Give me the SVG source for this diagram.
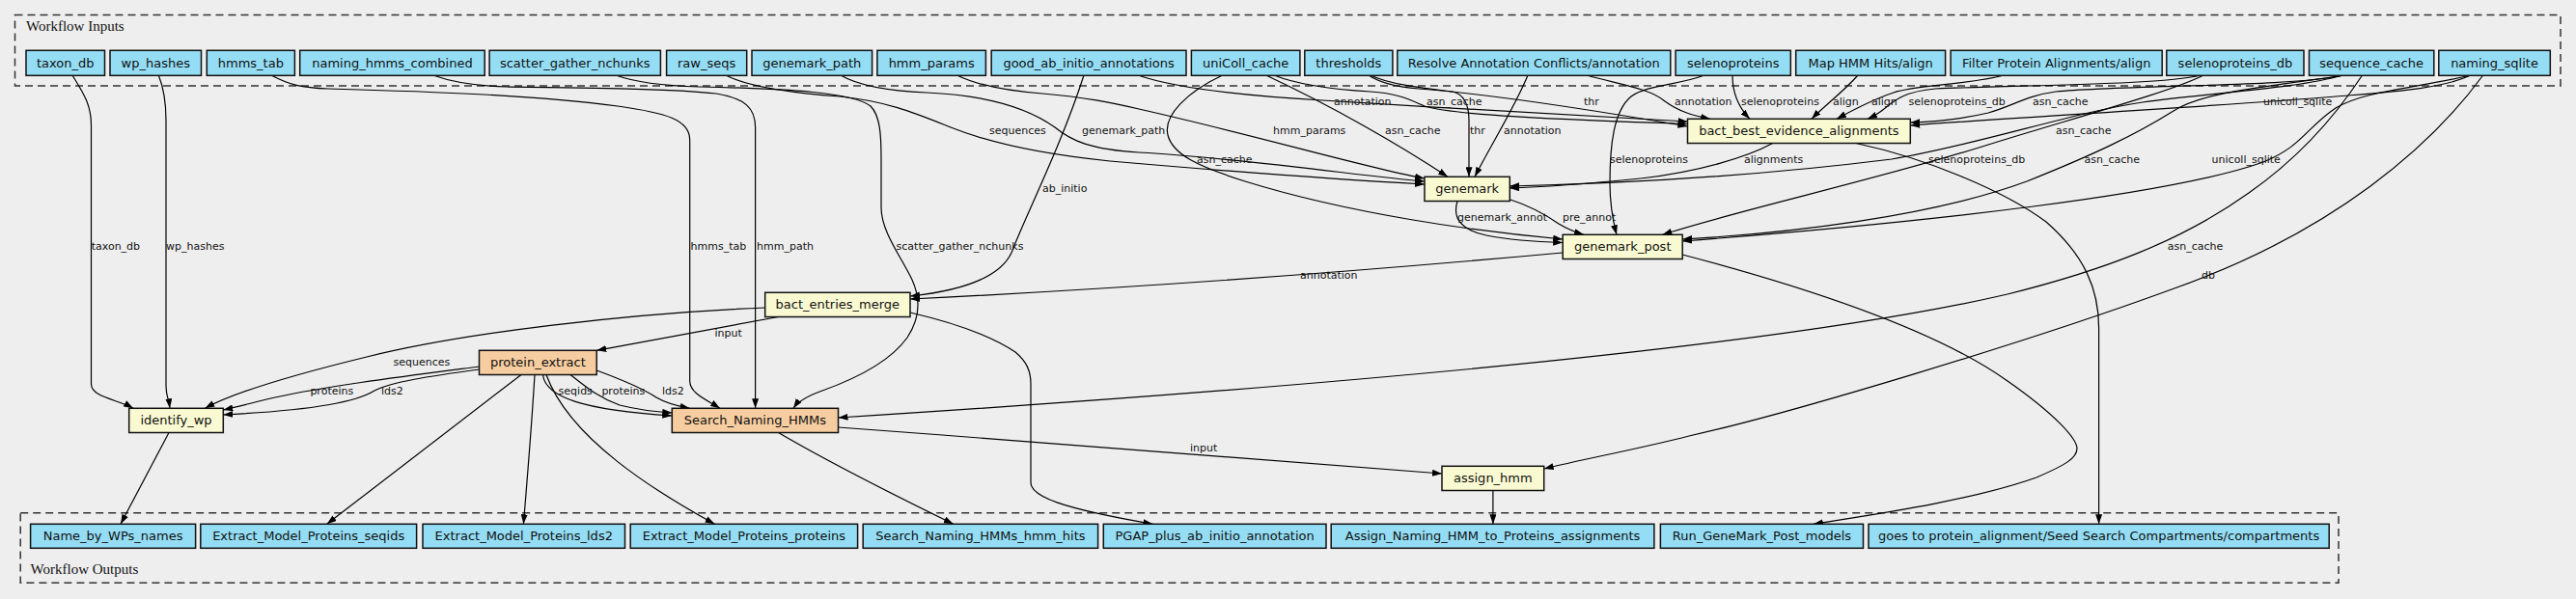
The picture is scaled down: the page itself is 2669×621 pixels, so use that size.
<svg xmlns="http://www.w3.org/2000/svg" width="2669" height="621" viewBox="0 0 2669 621">
<style>
.bg{fill:#eeeeee}
.cl{fill:none;stroke:#333;stroke-width:1.5;stroke-dasharray:8,5}
.clt{font-family:"Liberation Serif",serif;font-size:15px;fill:#111}
.node rect{stroke:#111;stroke-width:1.5}
.in rect{fill:#94ddf4}
.proc rect{fill:#fafad2}
.org rect{fill:#f6cda0}
.node text{font-family:"DejaVu Sans",sans-serif;font-size:13px;fill:#111;text-anchor:middle}
#edges path{fill:none;stroke:#000;stroke-width:1.2;marker-end:url(#ah)}
.el{font-family:"DejaVu Sans",sans-serif;font-size:11px;fill:#111}
</style>
<defs>
<marker id="ah" viewBox="0 0 10 7" refX="10" refY="3.5" markerWidth="10" markerHeight="7" markerUnits="userSpaceOnUse" orient="auto"><path d="M0,0 L10,3.5 L0,7 z" fill="#000"/></marker>
</defs>
<rect class="bg" x="0" y="0" width="2669" height="621"/>
<g id="cluster_inputs">
<rect class="cl" x="15.5" y="15.5" width="2637.5" height="73.5"/>
<text class="clt" x="27" y="31.5">Workflow Inputs</text>
</g>
<g id="cluster_outputs">
<rect class="cl" x="21.2" y="531.7" width="2401.8" height="72.6"/>
<text class="clt" x="31.6" y="595">Workflow Outputs</text>
</g>
<g id="edges">
<path d="M75,78 C86,96 94.5,108 94.5,130 L94.5,398 C94.5,412 122,414 138,423.3"/>
<path d="M164.3,78 C170,92 172,105 172,125 L172,400 C172,410 175,415 176,423.3"/>
<path d="M281,78 C300,88 312,91 340,92 C450,95 560,99 640,110 C690,117 714.7,124 714.7,145 L714.7,395 C714.7,408 733,415 746,423.3"/>
<path d="M448.7,78 C468,85 490,89 525,90 C610,91 700,92 742,97 C772,102 782.6,112 782.6,132 L782.6,423.3"/>
<path d="M638,78 C660,86 690,89 725,90 C820,92 884,96 902,110 C912,120 913,140 913,165 L913,215 C913,240 933,265 945,290 C955,312 952,332 940,350 C920,378 880,395 852,405 C838,410 827,416 822,423.3"/>
<path d="M752,78 C775,90 815,96 870,100 C920,105 950,118 985,132 C1025,148 1080,160 1150,167 C1300,180 1420,188 1476,191"/>
<path d="M871,78 C888,88 915,94 960,96 C1030,99 1068,114 1093,132 C1110,146 1130,155 1180,158 C1300,165 1420,184 1476,188"/>
<path d="M991.5,78 C1010,87 1040,94 1080,97 C1125,101 1150,106 1180,113 C1300,140 1420,175 1476,185"/>
<path d="M1179,78 C1220,92 1300,100 1370,104 C1500,112 1650,121 1748.5,126"/>
<path d="M1320,78 C1340,86 1370,92 1420,95 C1450,97 1462,104 1476,110 C1505,119 1610,124 1748.5,128.5"/>
<path d="M1418,78 C1430,86 1445,90 1470,92 C1550,98 1650,114 1748.5,131"/>
<path d="M1643.8,78 C1680,88 1710,92 1725,105 C1740,116 1755,120 1772,123.3"/>
<path d="M1795,78 C1795,96 1800,110 1813,123.3"/>
<path d="M1925,78 C1910,95 1890,110 1877,123.3"/>
<path d="M2076,78 C2040,88 1985,88 1962,96 C1938,104 1920,114 1903,123.3"/>
<path d="M2280,78 C2240,88 2100,88 2005,92 C1972,95 1962,105 1952,113 C1946,118 1940,121 1935,123.3"/>
<path d="M2427,78 C2380,90 2200,88 2130,95 C2100,99 2085,110 2060,117 C2035,123 2005,126 1979.3,127"/>
<path d="M2560,78 C2530,92 2480,95 2420,100 C2300,110 2100,121 1979.3,130"/>
<path d="M1311.7,78 C1380,110 1450,150 1500,183.3"/>
<path d="M1420,78 C1440,88 1480,92 1505,95 C1518,98 1522,110 1522,125 L1522,183.3"/>
<path d="M1583,78 C1570,110 1545,150 1528,183.3"/>
<path d="M1836.7,148.5 C1810,163 1760,178 1700,185 C1650,190 1600,194 1564,195"/>
<path d="M2427,78 C2380,92 2290,96 2220,106 C2150,116 2050,150 1960,165 C1800,185 1650,191 1564,193"/>
<path d="M1266.7,78 C1230,95 1205,120 1210,140 C1215,160 1240,172 1290,188 C1400,222 1530,240 1619.2,248"/>
<path d="M1510,208.5 C1505,225 1512,238 1540,244 C1570,250 1600,251 1619.2,251.5"/>
<path d="M1564.3,206.7 C1590,215 1605,225 1615,232 C1625,238 1633,241 1641,243.3"/>
<path d="M1766,78 C1740,88 1706,88 1690,100 C1672,115 1668,150 1668,190 C1668,215 1672,232 1675,243.3"/>
<path d="M2283,78 C2250,95 2150,122 2060,150 C1950,185 1800,218 1722.5,243.3"/>
<path d="M2430,78 C2330,92 2280,97 2252,115 C2212,140 2170,160 2100,188 C2000,225 1850,242 1743.2,248"/>
<path d="M2560,78 C2500,92 2450,94 2420,112 C2390,132 2385,152 2345,168 C2250,202 2000,230 1743.2,250"/>
<path d="M1619.2,262 C1400,282 1150,300 943,310"/>
<path d="M1123,78 C1100,150 1062,225 1048,262 C1035,290 990,302 943,307"/>
<path d="M2447.5,78 C2420,120 2380,165 2330,200 C2260,250 2180,280 2080,305 C1800,370 1200,412 868.5,433"/>
<path d="M2572.7,78 C2520,150 2420,240 2250,300 C2100,355 1850,430 1750,452 C1700,465 1640,476 1599.7,486"/>
<path d="M1743.2,264 C1880,300 2010,345 2080,395 C2130,430 2152,455 2152,465 C2152,475 2140,482 2110,495 C2040,520 1930,535 1879,543.3"/>
<path d="M1923,148.5 C2000,165 2080,200 2120,230 C2160,265 2174.6,300 2174.6,340 L2174.6,543.3"/>
<path d="M943,324 C990,335 1030,350 1052,365 C1064,375 1068,385 1068,398 L1068,500 C1068,515 1100,527 1194.4,543.3"/>
<path d="M792.7,319 C650,325 480,345 380,370 C290,392 240,408 212.4,423.3"/>
<path d="M806.5,328.5 L618.2,363.3"/>
<path d="M496.5,380 C420,390 340,400 285,412 C260,418 245,422 231.3,425"/>
<path d="M496.5,383 C445,390 405,396 388,405 C370,416 330,425 231.3,430"/>
<path d="M562.5,388.5 C565,412 605,425 696.3,431"/>
<path d="M591,388.5 C608,402 620,412 642,420 C662,425 680,427 696.3,428"/>
<path d="M618.2,384 C648,395 668,404 680,412 C690,418 702,421 714.7,423.3"/>
<path d="M540,388.5 L338.7,543.3"/>
<path d="M554,388.5 C551,440 546,500 542.4,543.3"/>
<path d="M566,388.5 C590,455 680,510 740.5,543.3"/>
<path d="M175,448.5 L125,543.3"/>
<path d="M868.5,443 C1100,460 1350,480 1494,491"/>
<path d="M806.5,448.5 C860,480 930,515 987.8,543.3"/>
<path d="M1546.9,508.5 L1546.9,543.3"/>
</g>
<g id="edge_labels">
<text class="el" x="1382" y="108.5">annotation</text>
<text class="el" x="1478" y="108.5">asn_cache</text>
<text class="el" x="1641" y="108.5">thr</text>
<text class="el" x="1735" y="108.5">annotation</text>
<text class="el" x="1804" y="108.5">selenoproteins</text>
<text class="el" x="1899" y="108.5">align</text>
<text class="el" x="1939" y="108.5">align</text>
<text class="el" x="1977.5" y="108.5">selenoproteins_db</text>
<text class="el" x="2106" y="108.5">asn_cache</text>
<text class="el" x="2345" y="108.5">unicoll_sqlite</text>
<text class="el" x="1025" y="138.5">sequences</text>
<text class="el" x="1121" y="138.5">genemark_path</text>
<text class="el" x="1319" y="138.5">hmm_params</text>
<text class="el" x="1435" y="138.5">asn_cache</text>
<text class="el" x="1523" y="138.5">thr</text>
<text class="el" x="1558" y="138.5">annotation</text>
<text class="el" x="2130" y="138.5">asn_cache</text>
<text class="el" x="1240" y="168.5">asn_cache</text>
<text class="el" x="1668" y="168.5">selenoproteins</text>
<text class="el" x="1807" y="168.5">alignments</text>
<text class="el" x="1998" y="168.5">selenoproteins_db</text>
<text class="el" x="2159.5" y="168.5">asn_cache</text>
<text class="el" x="2291.6" y="168.5">unicoll_sqlite</text>
<text class="el" x="1080" y="198.5">ab_initio</text>
<text class="el" x="1510" y="228.5">genemark_annot</text>
<text class="el" x="1619" y="228.5">pre_annot</text>
<text class="el" x="94.7" y="258.5">taxon_db</text>
<text class="el" x="172" y="258.5">wp_hashes</text>
<text class="el" x="715.5" y="258.5">hmms_tab</text>
<text class="el" x="784" y="258.5">hmm_path</text>
<text class="el" x="928.6" y="258.5">scatter_gather_nchunks</text>
<text class="el" x="2245.7" y="258.5">asn_cache</text>
<text class="el" x="1347" y="288.5">annotation</text>
<text class="el" x="2281" y="288.5">db</text>
<text class="el" x="740.5" y="348.5">input</text>
<text class="el" x="407.5" y="378.5">sequences</text>
<text class="el" x="321.4" y="408.5">proteins</text>
<text class="el" x="395" y="408.5">lds2</text>
<text class="el" x="578.6" y="408.5">seqids</text>
<text class="el" x="623.4" y="408.5">proteins</text>
<text class="el" x="686" y="408.5">lds2</text>
<text class="el" x="1233" y="467.5">input</text>
</g>
<g id="in_taxon_db" class="node in"><rect x="27" y="52.3" width="81.5" height="26"/><text x="67.75" y="69.8">taxon_db</text></g>
<g id="in_wp_hashes" class="node in"><rect x="114" y="52.3" width="94.5" height="26"/><text x="161.25" y="69.8">wp_hashes</text></g>
<g id="in_hmms_tab" class="node in"><rect x="214.3" y="52.3" width="91.1" height="26"/><text x="259.85" y="69.8">hmms_tab</text></g>
<g id="in_naming_hmms_combined" class="node in"><rect x="310.7" y="52.3" width="191.5" height="26"/><text x="406.45" y="69.8">naming_hmms_combined</text></g>
<g id="in_scatter_gather_nchunks" class="node in"><rect x="507.1" y="52.3" width="177.3" height="26"/><text x="595.75" y="69.8">scatter_gather_nchunks</text></g>
<g id="in_raw_seqs" class="node in"><rect x="690.6" y="52.3" width="83.1" height="26"/><text x="732.15" y="69.8">raw_seqs</text></g>
<g id="in_genemark_path" class="node in"><rect x="779" y="52.3" width="124.6" height="26"/><text x="841.3" y="69.8">genemark_path</text></g>
<g id="in_hmm_params" class="node in"><rect x="908.9" y="52.3" width="112.5" height="26"/><text x="965.15" y="69.8">hmm_params</text></g>
<g id="in_good_ab_initio_annotations" class="node in"><rect x="1027.2" y="52.3" width="201.8" height="26"/><text x="1128.1" y="69.8">good_ab_initio_annotations</text></g>
<g id="in_uniColl_cache" class="node in"><rect x="1234.4" y="52.3" width="112.5" height="26"/><text x="1290.65" y="69.8">uniColl_cache</text></g>
<g id="in_thresholds" class="node in"><rect x="1351.8" y="52.3" width="91.1" height="26"/><text x="1397.35" y="69.8">thresholds</text></g>
<g id="in_resolve_annotation" class="node in"><rect x="1447.8" y="52.3" width="283" height="26"/><text x="1589.3" y="69.8">Resolve Annotation Conflicts/annotation</text></g>
<g id="in_selenoproteins" class="node in"><rect x="1736.1" y="52.3" width="119.2" height="26"/><text x="1795.7" y="69.8">selenoproteins</text></g>
<g id="in_map_hmm_hits_align" class="node in"><rect x="1860.7" y="52.3" width="154.9" height="26"/><text x="1938.15" y="69.8">Map HMM Hits/align</text></g>
<g id="in_filter_protein_alignments_align" class="node in"><rect x="2021.1" y="52.3" width="219.1" height="26"/><text x="2130.65" y="69.8">Filter Protein Alignments/align</text></g>
<g id="in_selenoproteins_db" class="node in"><rect x="2244.8" y="52.3" width="142.2" height="26"/><text x="2315.9" y="69.8">selenoproteins_db</text></g>
<g id="in_sequence_cache" class="node in"><rect x="2392.5" y="52.3" width="129.3" height="26"/><text x="2457.15" y="69.8">sequence_cache</text></g>
<g id="in_naming_sqlite" class="node in"><rect x="2526.8" y="52.3" width="115.5" height="26"/><text x="2584.55" y="69.8">naming_sqlite</text></g>
<g id="bact_best_evidence_alignments" class="node proc"><rect x="1748.5" y="123.3" width="230.8" height="25.2"/><text x="1863.9" y="140.4">bact_best_evidence_alignments</text></g>
<g id="genemark" class="node proc"><rect x="1476" y="183.3" width="88.3" height="25.2"/><text x="1520.15" y="200.4">genemark</text></g>
<g id="genemark_post" class="node proc"><rect x="1619.2" y="243.3" width="124" height="25.2"/><text x="1681.2" y="260.4">genemark_post</text></g>
<g id="bact_entries_merge" class="node proc"><rect x="792.7" y="303.3" width="150.3" height="25.2"/><text x="867.85" y="320.4">bact_entries_merge</text></g>
<g id="protein_extract" class="node org"><rect x="496.5" y="363.3" width="121.7" height="25.2"/><text x="557.35" y="380.4">protein_extract</text></g>
<g id="identify_wp" class="node proc"><rect x="133.7" y="423.3" width="97.6" height="25.2"/><text x="182.5" y="440.4">identify_wp</text></g>
<g id="Search_Naming_HMMs" class="node org"><rect x="696.3" y="423.3" width="172.2" height="25.2"/><text x="782.4" y="440.4">Search_Naming_HMMs</text></g>
<g id="assign_hmm" class="node proc"><rect x="1494" y="483.3" width="105.7" height="25.2"/><text x="1546.85" y="500.4">assign_hmm</text></g>
<g id="out_Name_by_WPs_names" class="node in"><rect x="31.6" y="543.3" width="171" height="25"/><text x="117.1" y="560.3">Name_by_WPs_names</text></g>
<g id="out_Extract_Model_Proteins_seqids" class="node in"><rect x="207.8" y="543.3" width="223.8" height="25"/><text x="319.7" y="560.3">Extract_Model_Proteins_seqids</text></g>
<g id="out_Extract_Model_Proteins_lds2" class="node in"><rect x="438" y="543.3" width="209.5" height="25"/><text x="542.75" y="560.3">Extract_Model_Proteins_lds2</text></g>
<g id="out_Extract_Model_Proteins_proteins" class="node in"><rect x="653.2" y="543.3" width="235.4" height="25"/><text x="770.9" y="560.3">Extract_Model_Proteins_proteins</text></g>
<g id="out_Search_Naming_HMMs_hmm_hits" class="node in"><rect x="894.2" y="543.3" width="243.4" height="25"/><text x="1015.9" y="560.3">Search_Naming_HMMs_hmm_hits</text></g>
<g id="out_PGAP_plus_ab_initio_annotation" class="node in"><rect x="1143.3" y="543.3" width="230.7" height="25"/><text x="1258.65" y="560.3">PGAP_plus_ab_initio_annotation</text></g>
<g id="out_Assign_Naming_HMM_to_Proteins_assignments" class="node in"><rect x="1379.2" y="543.3" width="334.7" height="25"/><text x="1546.55" y="560.3">Assign_Naming_HMM_to_Proteins_assignments</text></g>
<g id="out_Run_GeneMark_Post_models" class="node in"><rect x="1720.4" y="543.3" width="210.1" height="25"/><text x="1825.45" y="560.3">Run_GeneMark_Post_models</text></g>
<g id="out_goes_to_compartments" class="node in"><rect x="1936" y="543.3" width="477.2" height="25"/><text x="2174.6" y="560.3">goes to protein_alignment/Seed Search Compartments/compartments</text></g>
</svg>
